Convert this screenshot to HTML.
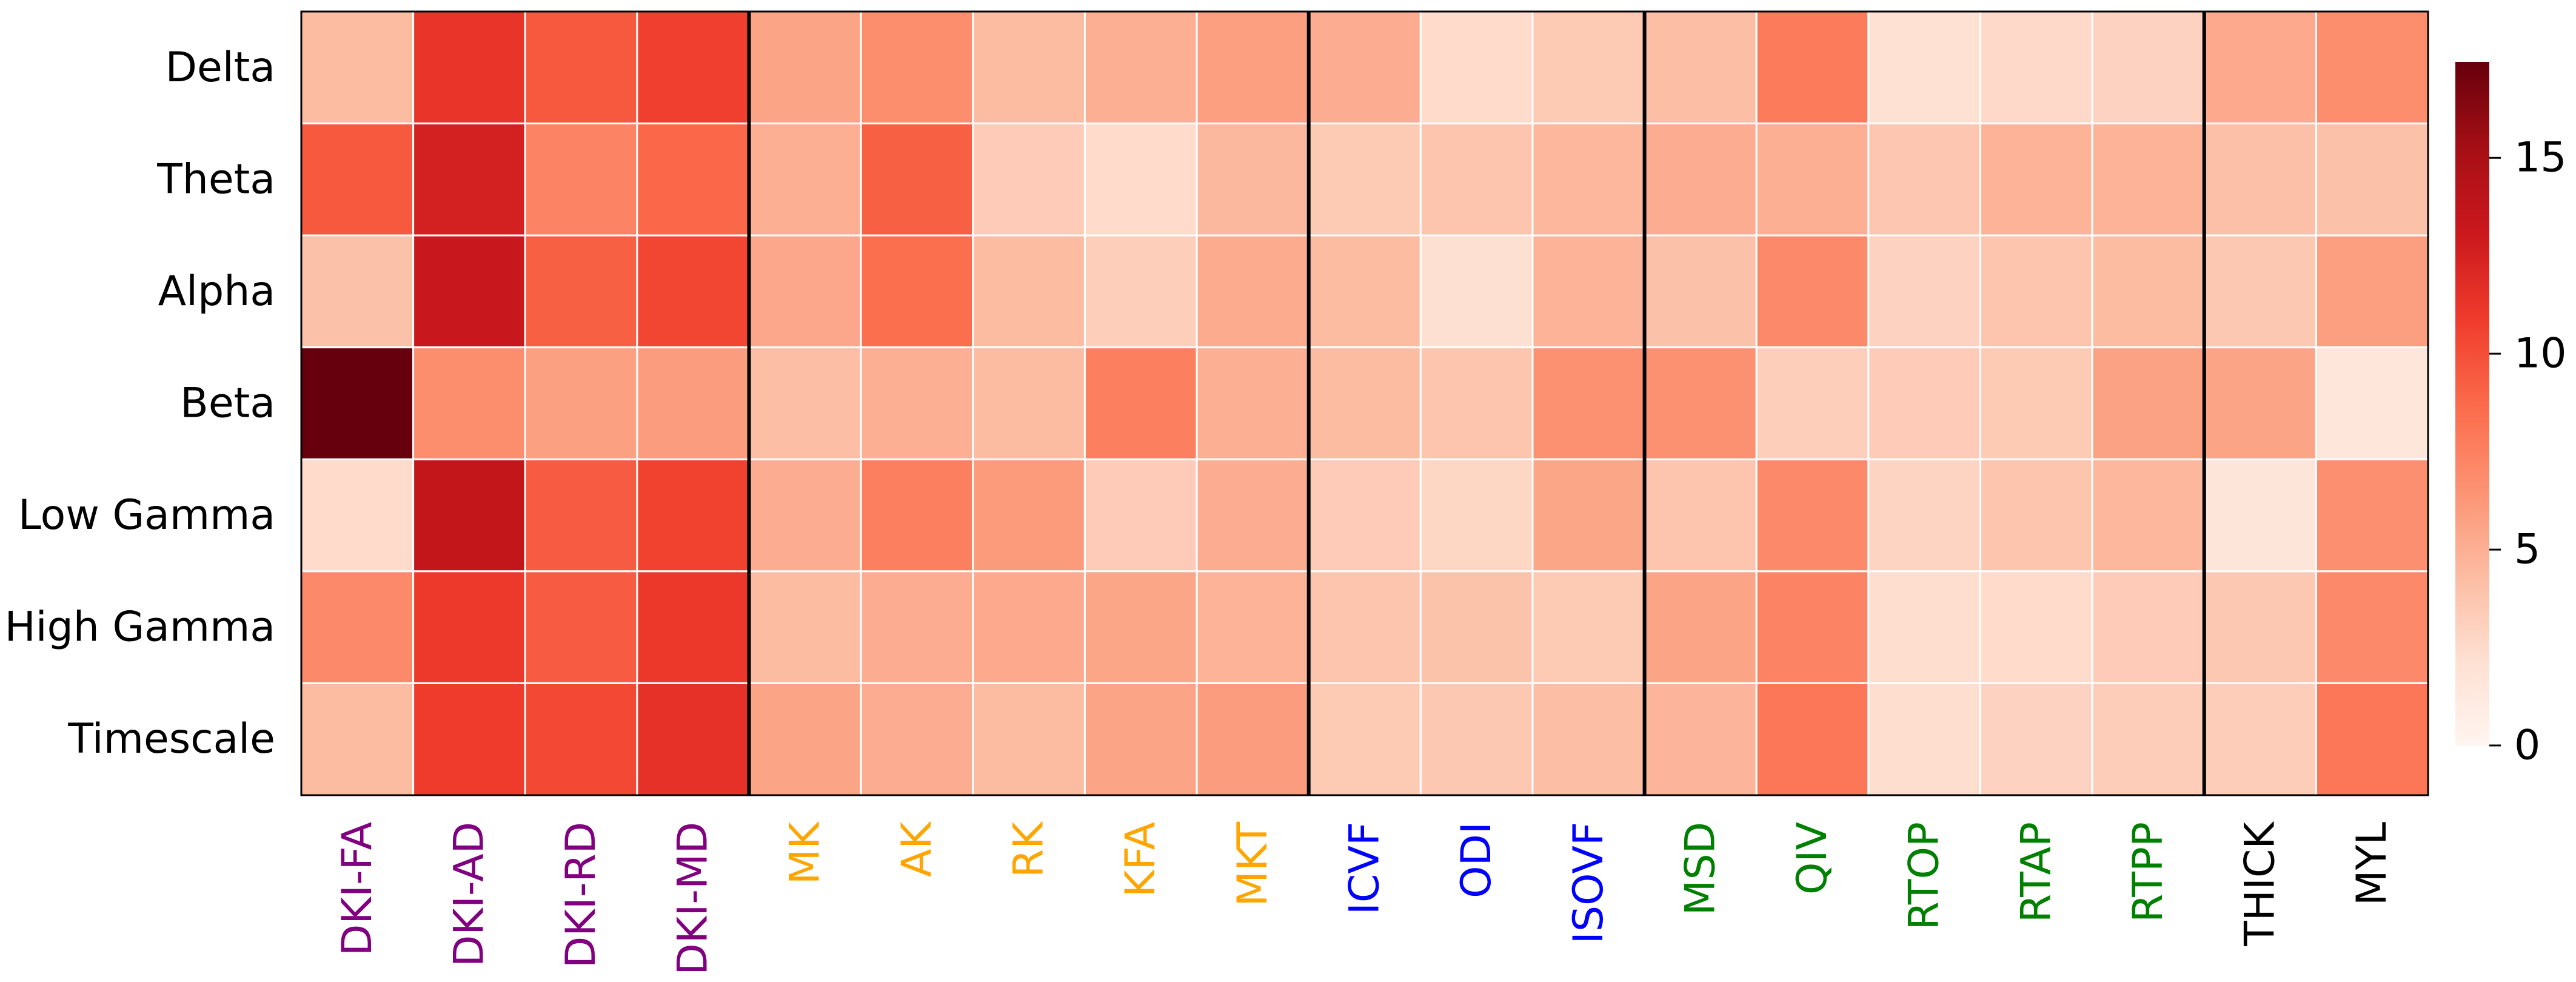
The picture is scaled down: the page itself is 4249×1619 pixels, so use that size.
<!DOCTYPE html>
<html><head><meta charset="utf-8"><style>
html,body{margin:0;padding:0;background:#fff;}
svg{display:block;font-family:"DejaVu Sans","Liberation Sans",sans-serif;}
</style></head><body>
<svg id="chart" width="4249" height="1619" viewBox="0 0 4249 1619" xmlns="http://www.w3.org/2000/svg">
<defs>
<linearGradient id="cbgrad" x1="0" y1="1" x2="0" y2="0">
<stop offset="0" stop-color="#fff5f0"/><stop offset="0.125" stop-color="#fee0d2"/><stop offset="0.25" stop-color="#fcbba1"/><stop offset="0.375" stop-color="#fc9272"/><stop offset="0.5" stop-color="#fb6a4a"/><stop offset="0.625" stop-color="#ef3b2c"/><stop offset="0.75" stop-color="#cb181d"/><stop offset="0.875" stop-color="#a50f15"/><stop offset="1" stop-color="#67000d"/>
</linearGradient>
</defs>
<g id="cells"></g>
<g id="seps"></g>
<rect x="497" y="19" width="3508" height="1292" fill="none" stroke="#000" stroke-width="3"/>
<g id="ylabels"></g>
<g id="xlabels"></g>
<g id="colorbar">
<rect x="4050" y="102" width="56" height="1127" fill="url(#cbgrad)"/>
</g>
</svg>
<script>
const rows = ["Delta","Theta","Alpha","Beta","Low Gamma","High Gamma","Timescale"];
const cols = ["DKI-FA","DKI-AD","DKI-RD","DKI-MD","MK","AK","RK","KFA","MKT","ICVF","ODI","ISOVF","MSD","QIV","RTOP","RTAP","RTPP","THICK","MYL"];
const colGroups = [0,0,0,0,1,1,1,1,1,2,2,2,3,3,3,3,3,4,4];
const groupColors = ["#800080","#ffa500","#0000ff","#008000","#000000"];
// values per column (rows Delta..Timescale)
const values = [
[4.3,9.5,4.0,17.45,2.5,7.0,4.3],
[11.3,12.6,13.2,6.8,13.6,11.0,10.9],
[9.5,7.3,9.2,5.8,9.4,9.4,10.3],
[10.7,8.8,10.4,6.0,10.6,11.1,11.5],
[5.6,5.0,5.4,4.2,5.1,4.3,5.6],
[6.8,9.2,8.5,5.0,7.5,5.1,5.1],
[4.3,3.4,4.3,4.3,6.1,5.3,4.3],
[5.0,2.5,3.2,7.5,3.4,5.5,5.6],
[5.9,4.5,5.2,5.0,5.1,4.8,6.0],
[5.1,3.5,4.3,4.3,3.4,3.8,3.5],
[2.5,3.8,2.2,3.8,2.8,3.9,3.6],
[3.5,4.6,4.8,6.6,5.5,3.5,4.2],
[4.2,5.1,4.0,6.6,3.8,5.6,4.7],
[7.8,5.0,7.0,3.2,7.0,7.3,8.0],
[2.1,3.7,3.0,3.4,2.9,2.3,2.3],
[2.6,4.8,3.8,3.5,3.8,2.5,3.0],
[3.0,4.8,4.3,5.7,4.6,3.4,3.3],
[5.3,4.1,3.6,5.6,1.7,3.6,3.3],
[6.8,4.0,5.9,1.6,6.7,7.0,8.0]
];
const cbTicks = [0,5,10,15];
const vmin = 0, vmax = 17.45;

const NS = "http://www.w3.org/2000/svg";
const X0 = 497, Y0 = 19, W = 3508, H = 1292;
const cw = W / cols.length, rh = H / rows.length;
const xPos = i => X0 + i * cw;
const yPos = j => Y0 + j * rh;
const stops = ["#fff5f0","#fee0d2","#fcbba1","#fc9272","#fb6a4a","#ef3b2c","#cb181d","#a50f15","#67000d"].map(h=>[parseInt(h.substr(1,2),16),parseInt(h.substr(3,2),16),parseInt(h.substr(5,2),16)]);
function cmap(v){
  let t = Math.max(0, Math.min(1, (v - vmin) / (vmax - vmin))) * 8;
  let i = Math.min(7, Math.floor(t)), f = t - i;
  const a = stops[i], b = stops[i+1];
  return "rgb(" + [0,1,2].map(k => Math.round(a[k] + (b[k]-a[k]) * f)).join(",") + ")";
}
function mk(tag, attrs, parent){
  const e = document.createElementNS(NS, tag);
  for (const k in attrs) e.setAttribute(k, attrs[k]);
  parent.appendChild(e);
  return e;
}
const gc = document.getElementById("cells");
values.forEach((col, i) => col.forEach((v, j) => {
  const r = mk("rect", {x: xPos(i), y: yPos(j), width: cw, height: rh, fill: cmap(v), stroke: "#fff", "stroke-width": 3}, gc);
  
  
}));
const gs = document.getElementById("seps");
for (let i = 1; i < cols.length; i++) {
  if (colGroups[i] !== colGroups[i-1]) {
    const l = mk("line", {x1: xPos(i), x2: xPos(i), y1: Y0, y2: Y0 + H, stroke: "#000", "stroke-width": 6}, gs);
    
    
  }
}
const gy = document.getElementById("ylabels");
rows.forEach((r, j) => {
  const t = mk("text", {x: 454, y: yPos(j) + rh/2, "text-anchor": "end", "dominant-baseline": "central", "font-size": 68, fill: "#000"}, gy);
  t.textContent = r;
  
  
});
const gx = document.getElementById("xlabels");
cols.forEach((c, i) => {
  const cx = xPos(i) + cw/2, ty = 1355;
  const t = mk("text", {x: cx, y: ty, transform: "rotate(-90 " + cx + " " + ty + ")", "text-anchor": "end", "dominant-baseline": "central", "font-size": 68, fill: groupColors[colGroups[i]]}, gx);
  t.textContent = c;
  
  
});
const gcb = document.getElementById("colorbar");
const cbY = v => 1229 - (v - vmin) / (vmax - vmin) * (1229 - 102);
cbTicks.forEach(v => {
  const l = mk("line", {x1: 4106, x2: 4125, y1: cbY(v), y2: cbY(v), stroke: "#000", "stroke-width": 3}, gcb);
  
  
  const t = mk("text", {x: 4147, y: cbY(v), "dominant-baseline": "central", "font-size": 68, fill: "#000"}, gcb);
  t.textContent = v;
  
  
});
</script>
</body></html>
